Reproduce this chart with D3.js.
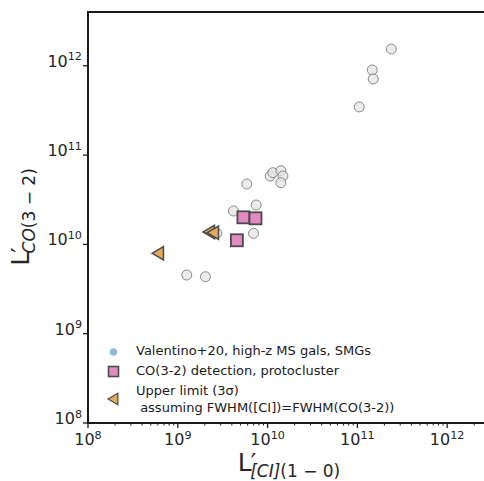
<!DOCTYPE html>
<html>
<head>
<meta charset="utf-8">
<script src="https://cdn.jsdelivr.net/npm/d3@7"></script>
<style>
  body { margin: 0; background: #fff; }
  svg { display: block; font-family: "DejaVu Sans", sans-serif; }
</style>
</head>
<body>
<svg id="chart" width="484" height="481"></svg>
<script>
'use strict';

// Valentino+20 comparison sample (log10 L')
const litX = [11.378, 11.166, 11.177, 11.021, 9.769, 10.029, 10.059, 10.148, 10.171, 10.148, 9.873, 9.620, 9.843, 9.435, 9.100, 9.308];
const litY = [12.188, 11.953, 11.852, 11.539, 10.676, 10.766, 10.803, 10.825, 10.766, 10.691, 10.441, 10.374, 10.124, 10.124, 9.657, 9.638];

// CO(3-2) detections in the protocluster
const detX = [9.731, 9.865, 9.658];
const detY = [10.303, 10.292, 10.046];

// upper limits on [CI]
const limX = [9.352, 9.397, 8.784];
const limY = [10.139, 10.131, 9.900];

const tickExps = [8, 9, 10, 11, 12];
const legendLabels = [
  ["Valentino+20, high-z MS gals, SMGs"],
  ["CO(3-2) detection, protocluster"],
  ["Upper limit (3\u03c3)", "\u00a0assuming FWHM([CI])=FWHM(CO(3-2))"]
];

const M = { left: 88, top: 12, right: 490, bottom: 423 };
const C = {
  circFill: "#e4e4e4", circEdge: "#707070",
  sq: "#e38ac3", tri: "#e3a95f", edge: "#4a4a4a",
  legCirc: "#8fbad9", axis: "#1a1a1a"
};

const svg = d3.select("#chart");

const x = d3.scaleLog().domain([1e8, 3e12]).range([M.left, M.right]);
const y = d3.scaleLog().domain([1e8, 4e12]).range([M.bottom, M.top]);

// spines (top + left + bottom, right falls off the canvas)
const spine = svg.append("g").attr("stroke", C.axis).attr("stroke-width", 2).attr("fill", "none");
spine.append("path").attr("d", `M${M.left},${M.bottom}V${M.top}H${M.right + 4}`);
spine.append("path").attr("d", `M${M.left - 1},${M.bottom}H${M.right + 4}`);

// x ticks
const xt = svg.append("g").attr("stroke", C.axis);
tickExps.forEach(e => {
  const px = x(Math.pow(10, e));
  xt.append("line").attr("x1", px).attr("x2", px).attr("y1", M.bottom).attr("y2", M.bottom + 5).attr("stroke-width", 1.3);
  for (let k = 2; k < 10; k++) {
    const v = k * Math.pow(10, e);
    if (v > x.domain()[1]) break;
    const mx = x(v);
    xt.append("line").attr("x1", mx).attr("x2", mx).attr("y1", M.bottom).attr("y2", M.bottom + 2.5).attr("stroke-width", 1);
  }
});

// y ticks
const yt = svg.append("g").attr("stroke", C.axis);
tickExps.forEach(e => {
  const py = y(Math.pow(10, e));
  yt.append("line").attr("x1", M.left).attr("x2", M.left - 5).attr("y1", py).attr("y2", py).attr("stroke-width", 1.3);
});

function powLabel(g, e, px, py, anchor) {
  const t = g.append("text").attr("x", px).attr("y", py).attr("text-anchor", anchor)
    .attr("fill", "#262626").style("font-size", "16px");
  t.append("tspan").text("10");
  t.append("tspan").attr("dy", -6.5).style("font-size", "11.2px").text(e);
}

tickExps.forEach(e => powLabel(svg, e, x(Math.pow(10, e)), M.bottom + 22, "middle"));
tickExps.forEach(e => powLabel(svg, e, M.left - 6, y(Math.pow(10, e)) + 1, "end"));

// axis labels: L' with subscript tucked under the prime
function lumLabel(t, sub, rest) {
  t.append("tspan").text("L");
  t.append("tspan").attr("dx", -1).style("font-size", "24px").text("\u2032");
  t.append("tspan").attr("dx", -6).attr("dy", 6).style("font-size", "17px").style("font-style", "italic").text(sub);
  t.append("tspan").style("font-size", "17px").text(rest);
}

const xl = svg.append("text").attr("x", 289).attr("y", 471).attr("text-anchor", "middle")
  .attr("fill", "#262626").style("font-size", "25px");
lumLabel(xl, "[CI]", "(1 \u2212 0)");

const yl = svg.append("text").attr("transform", "translate(29,217) rotate(-90)").attr("text-anchor", "middle")
  .attr("fill", "#262626").style("font-size", "25px");
lumLabel(yl, "CO", "(3 \u2212 2)");

// markers
const plot = svg.append("g");
const tri = d3.symbol().type({ draw(ctx, s) { const r = Math.sqrt(s) / 2; ctx.moveTo(-r, 0); ctx.lineTo(r * 0.8, -r * 1.05); ctx.lineTo(r * 0.8, r * 1.05); ctx.closePath(); } });

plot.selectAll(".lit").data(d3.zip(litX, litY)).join("circle")
  .attr("cx", d => x(Math.pow(10, d[0]))).attr("cy", d => y(Math.pow(10, d[1]))).attr("r", 5)
  .attr("fill", C.circFill).attr("fill-opacity", 0.75).attr("stroke", C.circEdge).attr("stroke-opacity", 0.8).attr("stroke-width", 1);

plot.selectAll(".det").data(d3.zip(detX, detY)).join("rect")
  .attr("x", d => x(Math.pow(10, d[0])) - 6).attr("y", d => y(Math.pow(10, d[1])) - 6)
  .attr("width", 12).attr("height", 12)
  .attr("fill", C.sq).attr("stroke", C.edge).attr("stroke-width", 1.8);

plot.selectAll(".lim").data(d3.zip(limX, limY)).join("path")
  .attr("transform", d => `translate(${x(Math.pow(10, d[0]))},${y(Math.pow(10, d[1]))})`)
  .attr("d", tri.size(160))
  .attr("fill", C.tri).attr("stroke", C.edge).attr("stroke-width", 1.5);

// legend
const leg = svg.append("g").attr("fill", "#1a1a1a").style("font-size", "13px");
leg.append("circle").attr("cx", 113.5).attr("cy", 352).attr("r", 3.8).attr("fill", C.legCirc);
leg.append("rect").attr("x", 108.5).attr("y", 366.5).attr("width", 10).attr("height", 10)
  .attr("fill", C.sq).attr("stroke", C.edge).attr("stroke-width", 1.6);
leg.append("path").attr("transform", "translate(113.5,399)").attr("d", tri.size(120))
  .attr("fill", C.tri).attr("stroke", C.edge).attr("stroke-width", 1.2);

leg.append("text").attr("x", 136).attr("y", 355).text(legendLabels[0][0]);
leg.append("text").attr("x", 136).attr("y", 374.5).text(legendLabels[1][0]);
leg.append("text").attr("x", 136).attr("y", 394.5).text(legendLabels[2][0]);
leg.append("text").attr("x", 136).attr("y", 412).text(legendLabels[2][1]);
</script>
</body>
</html>
